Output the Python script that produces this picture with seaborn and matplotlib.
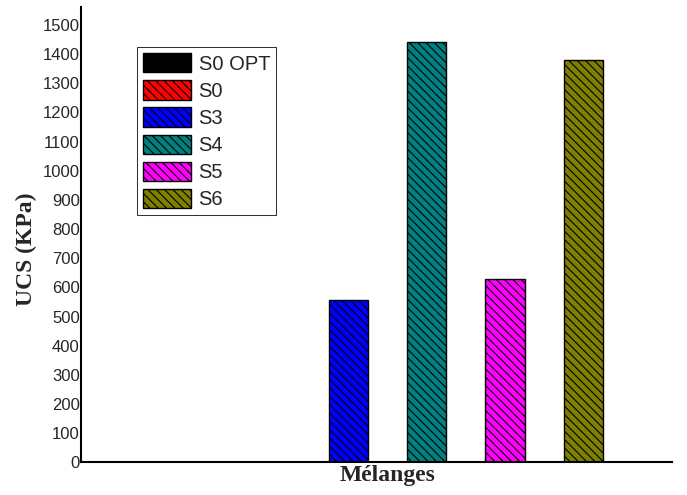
import matplotlib
matplotlib.use("Agg")
import matplotlib.pyplot as plt
from matplotlib.patches import Patch
import seaborn as sns
import pandas as pd

# UCS of each mix, grouped under a single x category
groups = ["Mélanges"] * 6
mixes = ["S0 OPT", "S0", "S3", "S4", "S5", "S6"]
ucs_kpa = [0, 0, 555, 1440, 628, 1380]
colors = ["#000000", "#FF0000", "#0000FF", "#008080", "#FF00FF", "#808000"]
y_ticks = list(range(0, 1501, 100))

df = pd.DataFrame({"group": groups, "mix": mixes, "ucs": ucs_kpa})

sns.set_style("white")
plt.rcParams["hatch.linewidth"] = 0.8

fig = plt.figure(figsize=(6.87, 4.95), dpi=100)
ax = fig.add_axes([0.118, 0.066, 0.860, 0.919])

sns.barplot(data=df, x="group", y="ucs", hue="mix", hue_order=mixes,
            palette=colors, saturation=1, width=0.8, gap=0.5,
            edgecolor="black", linewidth=1.0, legend=False, ax=ax)

hatch = "\\\\\\\\"
for cont in ax.containers:
    for bar in cont:
        bar.set_hatch(hatch)

ax.set_ylim(0, 1560)
ax.set_xlim(-0.524, 0.485)
ax.set_yticks(y_ticks)
ax.set_yticklabels([str(v) for v in y_ticks], family="Liberation Sans", fontsize=12)
ax.set_xticks([0])
ax.set_xticklabels(["Mélanges"], family="Liberation Serif", fontweight="bold", fontsize=17)
ax.tick_params(axis="y", length=0, pad=1)
ax.tick_params(axis="x", length=2, direction="in", pad=2)
ax.set_xlabel("")
ax.set_ylabel("UCS (KPa)", family="Liberation Serif", fontweight="bold", fontsize=17)
ax.yaxis.set_label_coords(-0.075, 0.469)

for side in ["top", "right"]:
    ax.spines[side].set_visible(False)
for side in ["left", "bottom"]:
    ax.spines[side].set_linewidth(1.5)
    ax.spines[side].set_color("black")

handles = [Patch(facecolor=c, edgecolor="black", hatch=hatch, linewidth=1.0, label=m)
           for c, m in zip(colors, mixes)]
leg = ax.legend(handles=handles, loc="upper left",
                bbox_to_anchor=(137.3 / 687, 1 - 47 / 495),
                bbox_transform=fig.transFigure, borderaxespad=0,
                prop={"family": "Liberation Sans", "size": 14.5},
                handlelength=2.37, handleheight=1.1, handletextpad=0.37,
                labelspacing=0.33, borderpad=0.3, fancybox=False, frameon=True)
leg.get_frame().set_edgecolor("black")
leg.get_frame().set_linewidth(0.75)

fig.savefig("out.png", dpi=100)
